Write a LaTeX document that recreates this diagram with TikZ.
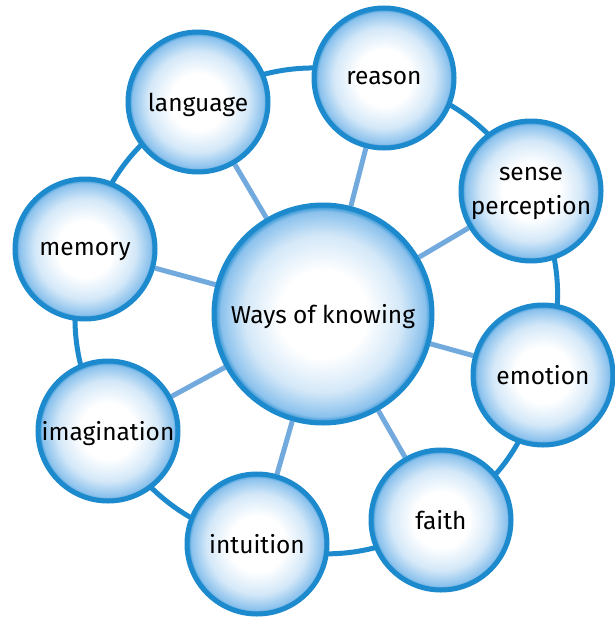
\documentclass[tikz,border=0pt]{standalone}
\usepackage{fontspec}
\setmainfont{Fira Sans}
\usepackage{xcolor}
\usepackage{tikz}
\usetikzlibrary{backgrounds}
\definecolor{rimblue}{RGB}{28,138,205}
\definecolor{spokeblue}{RGB}{115,170,222}
\definecolor{glowblue}{RGB}{110,178,232}
\pgfdeclareradialshading{bubbleshade}{\pgfpointorigin}{color(0bp)=(white); color(10bp)=(white); color(18bp)=(glowblue!30); color(23.5bp)=(glowblue!80); color(25bp)=(rimblue); color(50bp)=(rimblue)}
\newcommand{\labelfont}{\fontsize{24.5}{34}\selectfont}
\tikzstyle{bubble} = [circle, draw=rimblue, line width=5pt, shade,
    shading=bubbleshade, minimum size=140pt, inner sep=0pt,
    align=center, text depth=0pt, font=\labelfont]
\tikzstyle{hubbubble} = [bubble, minimum size=218pt]
\tikzstyle{ringline}  = [draw=rimblue, line width=5pt]
\tikzstyle{spoke}     = [draw=spokeblue, line width=5pt]

\begin{document}
\begin{tikzpicture}[x=1pt, y=-1pt]
  \useasboundingbox (0,0) rectangle (615,621);
  \node[hubbubble] (wok) at (323,314) {Ways of knowing};
  \node[bubble] (reason)      at (384,78)  {reason};
  \node[bubble] (language)    at (198,102) {language};
  \node[bubble] (sense)       at (531,191) {sense\\perception};
  \node[bubble] (memory)      at (85,249)  {memory};
  \node[bubble] (emotion)     at (543,375) {emotion};
  \node[bubble] (imagination) at (108,431) {imagination};
  \node[bubble] (faith)       at (441,520) {faith};
  \node[bubble] (intuition)   at (257,544) {intuition};

  \begin{scope}[on background layer]
    % outer ring
    \foreach \a/\b in {sense/reason, reason/language, language/memory,
        memory/imagination, imagination/intuition, intuition/faith,
        faith/emotion, emotion/sense}
      \draw[ringline] (\a.center) to[bend right=22] (\b.center);
    % spokes
    \foreach \n in {reason, language, sense, memory, emotion,
        imagination, faith, intuition}
      \draw[spoke] (wok) -- (\n);
  \end{scope}
\end{tikzpicture}
\end{document}
